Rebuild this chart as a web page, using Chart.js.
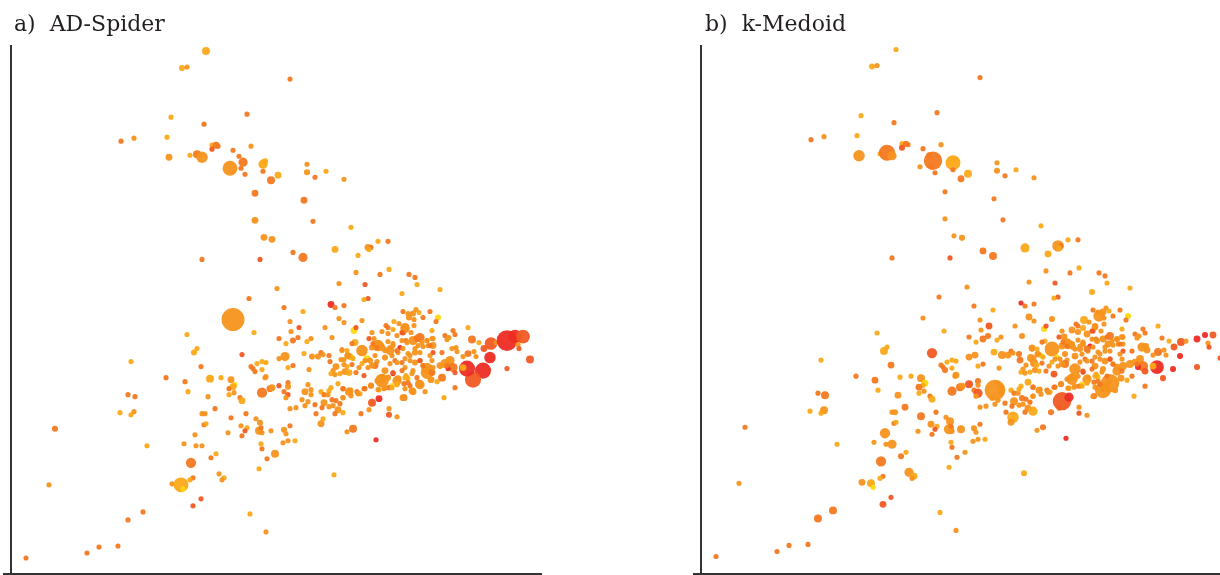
<!DOCTYPE html>
<html>
<head>
<meta charset="utf-8">
<title>AD-Spider and k-Medoid</title>
<script src="https://cdn.jsdelivr.net/npm/chart.js@4"></script>
<style>
body { margin: 0; background: #fff; }
canvas { position: absolute; top: 0; }
#chartA { left: 0; }
#chartB { left: 690px; }
</style>
</head>
<body>
<canvas id="chartA" width="600" height="575"></canvas>
<canvas id="chartB" width="530" height="575"></canvas>
<script>
// both panels show the same items, only weight differs
var titleA = "a)  AD-Spider";
var titleB = "b)  k-Medoid";

var itemX = [
    195,171,176,279,160,236,193,110,123,156,
    158,179,186,191,201,205,207,201,222,240,
    228,219,232,230,234,252,254,252,267,260,
    296,296,315,304,333,244,293,244,302,340,
    253,261,282,292,324,191,249,347,357,360,
    358,367,377,345,369,378,398,404,406,429,
    328,354,391,266,357,353,320,324,333,273,
    292,238,222,243,176,186,183,120,231,190,
    155,174,177,199,210,220,224,222,218,223,
    218,197,229,231,246,251,255,240,242,244,
    251,254,255,274,268,277,282,251,259,268,
    277,277,273,277,275,204,191,194,193,195,
    220,235,245,249,230,236,234,231,217,184,
    173,185,191,136,248,250,251,260,250,251,
    256,264,248,205,200,180,208,213,211,182,
    179,161,170,172,190,182,239,255,132,117,
    107,88,76,15,38,44,109,123,120,117,124,
    279,288,314,328,333,351,343,345,280,268,
    287,282,300,296,275,321,375,377,383,388,
    394,371,377,382,392,361,386,358,344,341,
    363,367,351,389,377,372,382,395,379,387,
    361,356,293,301,307,310,312,318,331,336,
    339,341,319,330,333,337,298,325,333,341,
    336,322,320,324,329,334,338,345,348,351,
    359,366,374,353,371,382,386,395,381,386,
    378,373,368,360,354,393,261,297,294,300,
    300,291,297,294,304,279,285,310,313,317,
    318,320,327,332,321,325,329,332,313,311,
    318,322,327,324,332,305,312,310,338,340,
    346,349,350,358,361,368,378,378,386,393,
    342,336,365,323,273,279,275,272,277,284,
    419,427,425,392,397,405,402,408,398,403,
    412,403,400,421,434,442,444,438,436,457,
    461,468,480,473,485,496,504,512,507,508,
    479,472,519,496,462,456,465,463,457,452,
    441,445,446,431,444,433,414,409,402,431,
    426,420,416,439,434,442,444,437,452,422,
    421,412,422,419,409,404,399,394,409,402,
    416,422,422,407,412,417,396,391,392,397,
    402,394,397,391,406,397,394,399,404,364,
    374,364,384,
    362,367,371,366,374,379,382,386,381,394,
    391,406,411,416,421,419,404,409,399,394,
    386,379,391,409,416,421,412,429,436,371,
    366,377,382,387,396,401,408,401,392,386,
    381,374,367,360,353,347,339,332,332,354,
    361,357,342,336,331
];

var itemY = [
    522,505,506,494,456,459,449,432,435,436,
    416,418,419,416,428,428,427,424,423,427,
    417,405,411,405,399,409,412,402,398,393,
    409,401,402,396,394,380,373,353,352,346,
    336,334,321,316,324,314,314,318,326,326,
    324,332,332,301,299,304,299,296,289,284,
    290,289,280,285,275,274,269,266,268,266,
    262,275,254,241,239,225,221,212,219,207,
    196,192,182,195,196,194,189,187,185,181,
    179,177,176,173,210,212,211,207,205,202,
    204,196,197,217,215,206,208,181,185,188,
    191,187,182,179,176,165,160,160,149,150,
    156,160,155,151,148,146,143,138,141,139,
    130,128,128,128,143,146,141,143,130,125,
    115,120,105,120,116,111,100,96,94,96,
    94,90,89,85,75,68,60,42,62,54,
    28,27,21,16,89,145,161,162,159,179,177,
    252,246,246,255,251,253,243,246,242,235,
    236,233,235,232,230,236,248,246,252,250,
    246,242,240,244,241,241,238,235,231,230,
    235,228,223,226,232,225,228,233,223,221,
    226,215,220,217,217,221,219,218,224,223,
    217,216,212,214,214,218,204,207,209,209,
    207,203,200,199,200,202,201,201,206,210,
    213,212,216,198,193,200,193,198,188,189,
    186,185,184,188,185,190,186,189,182,184,
    179,174,172,168,169,165,166,182,179,179,
    183,186,190,185,174,173,170,176,171,166,
    167,168,164,160,161,160,155,150,182,178,
    182,180,160,164,171,175,165,159,157,176,
    145,142,134,99,144,148,140,131,133,133,
    262,256,252,262,260,264,260,261,256,254,
    256,248,241,243,238,243,239,236,234,246,
    234,231,230,225,231,233,237,237,229,225,
    216,203,214,205,194,205,217,222,220,217,
    225,226,222,221,186,176,182,189,182,196,
    192,194,201,213,210,206,201,205,206,206,
    213,208,221,218,213,211,213,206,236,233,
    233,228,235,228,227,228,231,233,225,220,
    203,196,195,203,196,191,185,188,221,208,
    203,218,213,
    230,231,228,226,223,226,230,223,218,245,
    241,235,231,233,235,228,225,221,218,215,
    211,210,211,213,205,201,208,208,208,195,
    193,196,201,195,196,200,190,183,176,190,
    186,186,184,188,185,180,183,176,185,213,
    208,206,215,218,223
];

var weightA = [
    12,7,5,5,5,5,5,5,5,5,
    9,5,12,25,5,9,5,5,5,5,
    5,42,16,5,5,16,7,5,9,12,
    5,7,5,5,5,9,9,9,5,5,
    9,9,5,16,9,5,5,5,9,5,
    5,5,5,5,5,5,5,5,5,5,
    5,5,5,5,5,5,9,5,5,5,
    5,5,100,5,5,5,7,5,5,5,
    5,5,5,12,5,9,5,9,5,5,
    5,5,5,9,5,5,5,5,5,5,
    5,5,5,16,5,5,5,20,9,5,
    5,7,5,5,5,5,5,5,5,5,
    5,5,5,7,5,5,5,5,5,5,
    5,5,5,5,12,5,5,5,5,5,
    5,12,5,5,5,20,5,5,5,5,
    5,5,42,5,5,5,5,5,5,5,
    5,5,5,5,5,7,5,5,5,5,5,
    5,5,5,5,5,5,9,5,5,5,
    5,7,5,5,5,5,5,5,5,5,
    16,5,5,5,7,5,5,5,9,5,
    5,25,25,5,5,7,5,5,16,5,
    7,9,5,7,7,5,5,5,5,5,
    9,5,5,5,5,9,5,9,5,5,
    5,5,5,5,5,9,9,5,5,5,
    7,5,7,5,36,5,16,5,5,5,
    5,5,5,7,5,5,9,5,9,5,
    5,5,5,5,5,5,5,5,5,5,
    5,5,5,5,5,5,5,5,9,5,
    5,5,9,5,5,5,5,9,12,5,
    5,5,5,5,12,9,5,7,5,9,
    12,5,5,5,7,5,5,5,5,5,
    5,7,5,5,5,5,7,5,7,5,
    5,5,5,5,5,5,5,5,5,5,
    12,5,30,9,5,81,36,36,5,5,
    25,49,12,5,49,49,5,5,9,5,
    5,5,5,5,5,5,5,16,9,12,
    5,9,30,16,16,16,5,5,9,5,
    5,5,5,5,5,7,5,5,16,16,
    5,9,5,5,5,5,5,5,5,5,
    5,5,5,5,5,5,5,5,7,9,
    9,5,5,
    5,5,5,5,5,5,5,5,5,16,
    5,9,5,5,5,5,5,5,5,5,
    5,5,5,5,25,9,5,9,5,16,
    5,7,5,9,5,5,12,9,9,5,
    5,5,5,5,5,5,9,5,5,5,
    7,5,5,5,5
];

var weightB = [
    5,7,5,5,5,5,5,5,5,5,
    25,5,49,16,5,7,5,7,5,5,
    5,5,64,5,5,42,5,5,12,9,
    5,7,5,5,5,5,5,5,5,5,
    5,7,9,12,16,5,5,9,25,5,
    5,5,5,5,5,5,5,5,5,5,
    5,5,7,5,5,5,5,5,5,5,
    5,5,5,5,5,5,12,5,20,9,
    5,9,5,5,5,12,9,5,9,5,
    5,9,5,9,5,5,5,5,5,7,
    5,5,9,9,9,5,5,16,12,12,
    7,5,5,16,5,9,5,7,5,5,
    12,5,5,12,9,5,5,5,5,20,
    5,5,16,5,20,5,5,12,5,5,
    5,5,5,5,7,20,16,9,5,5,
    5,9,12,5,5,9,5,5,12,12,
    5,5,5,5,5,5,5,12,5,5,12,
    5,9,5,9,5,7,7,5,5,5,
    7,9,5,5,5,7,5,5,12,5,
    7,9,7,7,5,5,9,5,5,5,
    9,20,42,5,5,7,7,5,7,5,
    9,5,9,12,9,5,5,7,9,5,
    5,5,9,12,5,7,5,5,12,5,
    5,5,5,5,5,7,5,5,5,5,
    5,5,9,9,25,5,16,5,5,5,
    5,5,5,7,5,5,9,5,81,9,
    5,5,5,5,5,5,5,5,5,5,
    5,5,9,5,7,5,5,5,12,5,
    5,5,9,5,16,5,25,9,9,5,
    5,5,7,5,64,16,5,5,5,7,
    7,5,5,7,7,5,5,5,5,5,
    5,7,5,5,5,5,9,5,25,5,
    5,5,5,5,5,5,5,5,5,5,
    5,5,12,9,5,9,7,9,5,5,
    7,7,5,7,7,36,5,5,12,5,
    16,7,9,5,5,5,7,64,49,5,
    5,9,16,12,9,20,9,7,9,12,
    5,5,5,5,5,9,5,9,12,9,
    7,5,5,9,5,5,7,5,5,5,
    7,5,5,5,5,5,5,5,5,12,
    25,7,5,
    5,5,7,5,5,5,5,9,5,9,
    5,5,5,5,7,5,5,5,5,5,
    5,5,5,5,9,5,5,12,5,9,
    5,5,5,5,5,5,7,5,5,5,
    5,5,5,5,5,5,5,5,5,5,
    7,5,5,5,5
];

// 0 = coolest, 5 = hottest
var heat = [
    1,1,2,3,1,3,3,3,2,1,
    2,1,3,2,1,3,3,4,3,2,
    3,2,3,3,3,1,1,3,1,3,
    2,2,1,3,2,3,3,2,3,1,
    2,2,3,3,1,3,4,1,2,3,
    1,1,3,2,3,1,3,3,1,1,
    2,4,1,2,4,1,5,3,3,3,
    1,3,2,1,1,1,1,1,4,3,
    3,3,1,1,1,2,0,1,3,2,
    1,2,3,1,1,1,1,3,3,3,
    1,2,2,2,2,1,3,3,3,4,
    3,2,3,4,2,3,2,2,3,1,
    3,3,2,2,2,1,4,3,2,2,
    2,2,2,1,2,3,2,2,1,3,
    3,2,1,1,3,3,2,1,2,3,
    1,2,1,0,4,4,1,2,3,3,
    3,3,3,3,2,3,1,2,1,3,3,
    2,4,2,2,2,2,0,4,2,3,
    3,3,2,1,1,2,3,3,1,2,
    2,2,2,1,4,2,2,4,1,3,
    2,2,2,5,2,2,2,3,2,2,
    2,0,1,2,2,3,2,3,2,1,
    1,0,3,2,2,2,2,2,2,3,
    1,2,1,2,1,2,1,3,2,1,
    2,2,2,4,2,5,2,1,0,1,
    3,2,1,3,3,3,2,2,2,2,
    2,2,2,2,3,2,2,1,3,2,
    1,1,1,3,3,3,3,2,2,3,
    2,2,2,3,1,3,1,2,2,2,
    3,1,3,2,4,5,2,4,2,3,
    3,2,5,1,2,3,2,2,2,1,
    3,0,3,3,2,2,2,1,2,2,
    3,2,2,1,3,3,3,2,2,1,
    3,1,4,4,2,5,5,4,2,4,
    5,5,4,4,4,5,2,2,3,2,
    2,2,2,3,3,1,2,2,2,3,
    1,2,2,2,2,3,4,5,1,2,
    2,1,4,2,3,2,2,2,3,2,
    2,2,2,2,2,2,2,2,2,2,
    2,1,0,3,3,3,2,3,2,3,
    2,2,3,
    3,2,2,3,2,2,2,3,2,2,
    4,3,2,2,2,3,2,2,2,2,
    2,2,3,4,2,3,3,2,3,2,
    2,2,4,2,1,2,2,2,2,1,
    1,2,2,2,3,2,2,2,3,2,
    2,2,1,2,2
];

var heatColors = ["#ffd80ef2", "#fba919f2", "#f7931ef2", "#f47920f2", "#f15a24f2", "#ed2d24f2"];
var axisColor = "#333333";

if (itemX.length != itemY.length || itemX.length != weightA.length || itemX.length != weightB.length || itemX.length != heat.length) {
    throw new Error("array lengths differ " + [itemX.length, itemY.length, weightA.length, weightB.length, heat.length]);
}

function plotPanel(dest, title, weight, xMax, yMin, titleLeft)
{
    var points = [];
    for (let i = 0; i < itemX.length; i++) {
        points.push({ x: itemX[i], y: itemY[i], r: Math.sqrt(weight[i]) * 1.15 });
    }

    const ctx = document.getElementById(dest).getContext("2d");
    return new Chart(ctx, {
        type: "bubble",
        data: {
            datasets: [{
                data: points,
                backgroundColor: heat.map(function (h) { return heatColors[h]; }),
                borderWidth: 0
            }]
        },
        plugins: [{
            id: "titleIndent",
            afterLayout: function (chart) { chart.titleBlock.left = titleLeft; }
        }],
        options: {
            responsive: false,
            animation: false,
            layout: { autoPadding: false, padding: { left: 4, right: dest == "chartA" ? 59 : 0, bottom: 1 } },
            scales: {
                x: {
                    type: "linear",
                    position: "bottom",
                    min: -7,
                    max: xMax,
                    grid: { display: false, drawTicks: false },
                    ticks: { display: false },
                    border: { color: axisColor, width: 2 }
                },
                y: {
                    type: "linear",
                    position: { x: 0 },
                    min: yMin,
                    max: yMin + 527,
                    grid: { display: false, drawTicks: false },
                    ticks: { display: false },
                    border: { color: axisColor, width: 2 }
                }
            },
            plugins: {
                legend: { display: false },
                title: {
                    display: true,
                    text: title,
                    align: "start",
                    color: "#231f20",
                    font: { family: "'DejaVu Serif'", size: 22, weight: "normal" },
                    padding: { top: 12, bottom: 7.6 }
                }
            }
        }
    });
}

plotPanel("chartA", titleA, weightA, 530, 0, 14);
plotPanel("chartB", titleB, weightB, 519, -1.5, 15);
</script>
</body>
</html>
